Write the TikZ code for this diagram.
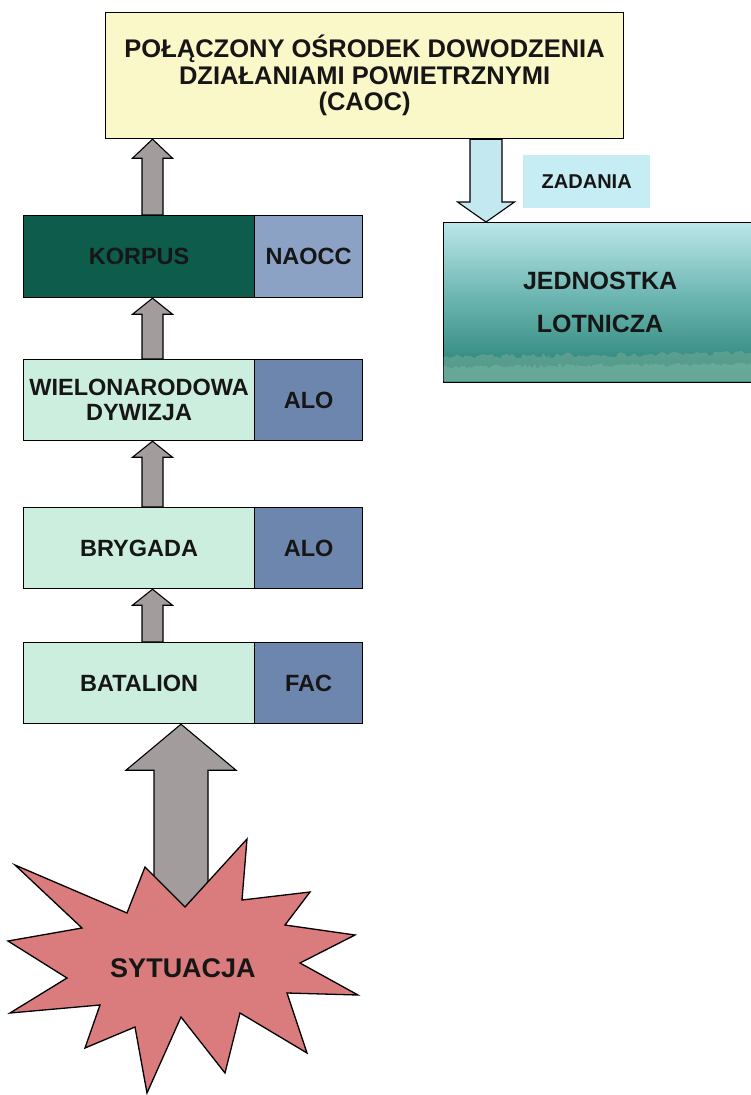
\documentclass[tikz,border=0pt]{standalone}
\usepackage{fontspec}
\setmainfont{Liberation Sans}
\usetikzlibrary{calc,decorations.pathmorphing}

\definecolor{caocfill}{HTML}{FAF8C8}
\definecolor{arrgray}{HTML}{A39C9C}
\definecolor{mint}{HTML}{CCEEDF}
\definecolor{cellblue}{HTML}{6D86AD}
\definecolor{cellbluelt}{HTML}{8CA2C5}
\definecolor{korpusgreen}{HTML}{0E5D4C}
\definecolor{skyfill}{HTML}{C6ECF4}
\definecolor{skyarrow}{HTML}{C4E8F0}
\definecolor{starred}{HTML}{DA7B7D}
\definecolor{unittop}{HTML}{C5EDF0}
\definecolor{unitmid}{HTML}{6DB6B2}
\definecolor{unitbot}{HTML}{2A8478}
\definecolor{treeband}{HTML}{6FA994}
\definecolor{ink}{HTML}{161616}

% sky-to-forest shading of the air unit box
\pgfdeclareverticalshading{unitshade}{100bp}{%
  color(0bp)=(unitbot); color(28bp)=(unitbot); color(52bp)=(unitmid);
  color(78bp)=(unittop); color(100bp)=(unittop)}

% block arrow pointing up: style, start, tip, half shaft, half head, head length
\newcommand\fatup[6]{%
  \path[#1] let \p1=(#2), \p2=(#3) in
    (\x2-#4,\y1) -- (\x2-#4,\y2-#6) -- (\x2-#5,\y2-#6) -- (\x2,\y2)
    -- (\x2+#5,\y2-#6) -- (\x2+#4,\y2-#6) -- (\x2+#4,\y1) -- cycle;}
% block arrow pointing down
\newcommand\fatdown[6]{%
  \path[#1] let \p1=(#2), \p2=(#3) in
    (\x2-#4,\y1) -- (\x2-#4,\y2+#6) -- (\x2-#5,\y2+#6) -- (\x2,\y2)
    -- (\x2+#5,\y2+#6) -- (\x2+#4,\y2+#6) -- (\x2+#4,\y1) -- cycle;}

\begin{document}
\begin{tikzpicture}[x=1pt,y=-1pt,
  every node/.style={text=ink},
  lbl/.style={font=\bfseries\fontsize{23.5}{25}\selectfont, align=center},
  cell/.style={lbl, draw=black, line width=1.2pt, inner sep=0pt, anchor=north west,
               minimum height=81pt},
  leftcell/.style={cell, minimum width=231pt},
  rightcell/.style={cell, minimum width=108pt},
  grayarrow/.style={fill=arrgray, draw=black, line width=1.1pt, line join=miter},
  bluearrow/.style={fill=skyarrow, draw=black, line width=1.1pt, line join=miter},
]
\useasboundingbox (0,0) rectangle (751,1095);

% top command centre
\node[draw=black, line width=1.2pt, fill=caocfill, anchor=north west,
      minimum width=518pt, minimum height=126pt, inner sep=0pt,
      font=\bfseries\fontsize{25.5}{26.5}\selectfont, align=center]
  (caoc) at (105,12) {POŁĄCZONY OŚRODEK DOWODZENIA\\DZIAŁANIAMI POWIETRZNYMI\\(CAOC)};

% chain of ground units
\node[leftcell, fill=korpusgreen, minimum height=82pt] (korpus) at (23,215) {KORPUS};
\node[rightcell, fill=cellbluelt, minimum height=82pt] (naocc) at (254,215) {NAOCC};

\node[leftcell, fill=mint] (wiel) at (23,359) {WIELONARODOWA\\DYWIZJA};
\node[rightcell, fill=cellblue] (alo1) at (254,359) {ALO};

\node[leftcell, fill=mint] (bryg) at (23,507) {BRYGADA};
\node[rightcell, fill=cellblue] (alo2) at (254,507) {ALO};

\node[leftcell, fill=mint] (bat) at (23,642) {BATALION};
\node[rightcell, fill=cellblue] (fac) at (254,642) {FAC};

% air unit
\node[draw=black, line width=1.2pt, anchor=north west, inner sep=0pt,
      minimum width=313pt, minimum height=160pt, shading=unitshade,
      font=\bfseries\fontsize{25}{43}\selectfont, align=center]
  (unit) at (443,222) {JEDNOSTKA\\LOTNICZA};
% tree line along the bottom of the air unit box
\pgfmathsetseed{7}
\fill[treeband, opacity=0.6]
  decorate[decoration={random steps, segment length=3pt, amplitude=2.5pt}]
  {(443.6,357) -- (751,353)} -- (751,381.4) -- (443.6,381.4) -- cycle;
\fill[unittop!45!treeband, opacity=0.3]
  decorate[decoration={random steps, segment length=2pt, amplitude=2pt}]
  {(443.6,367) -- (751,364)} -- (751,381.4) -- (443.6,381.4) -- cycle;

\node[fill=skyfill, inner sep=0pt, minimum width=127pt, minimum height=53pt,
      anchor=north west, font=\bfseries\fontsize{20}{22}\selectfont]
  (zad) at (523,155) {ZADANIA};

% arrow axes
\coordinate (ax) at (152.5,0);
\coordinate (bx) at (181,0);
\coordinate (dx) at (486,0);

% reporting arrows up the chain
\fatup{grayarrow}{ax|-korpus.north}{ax|-caoc.south}{10.5pt}{20pt}{19pt}
\fatup{grayarrow}{ax|-wiel.north}{ax|-korpus.south}{10.5pt}{20pt}{16pt}
\fatup{grayarrow}{ax|-bryg.north}{ax|-wiel.south}{10.5pt}{20pt}{16pt}
\fatup{grayarrow}{ax|-bat.north}{ax|-bryg.south}{10.5pt}{20pt}{16pt}

% tasking arrow down to the air unit
\fatdown{bluearrow}{dx|-caoc.south}{dx|-unit.north}{16pt}{28.5pt}{20pt}

% situation burst feeding the battalion
\coordinate (sit) at (183,968);
\fatup{grayarrow}{bx|-sit}{bx|-bat.south}{27pt}{55pt}{46pt}
\draw[fill=starred, line width=1.3pt, line join=miter]
  (15,865) -- (127,913) -- (145,867) -- (185,907) -- (247,839) -- (242,900)
  -- (310,892) -- (285,925) -- (355,935) -- (300,963) -- (358,995) -- (287,993)
  -- (307,1053) -- (240,1013) -- (225,1073) -- (181,1017) -- (147,1093)
  -- (135,1027) -- (85,1048) -- (100,1005) -- (10,1013) -- (67,978)
  -- (8,941) -- (82,928) -- cycle;
\node[font=\bfseries\fontsize{27}{29}\selectfont] (sitlabel) at (sit) {SYTUACJA};

\end{tikzpicture}
\end{document}
